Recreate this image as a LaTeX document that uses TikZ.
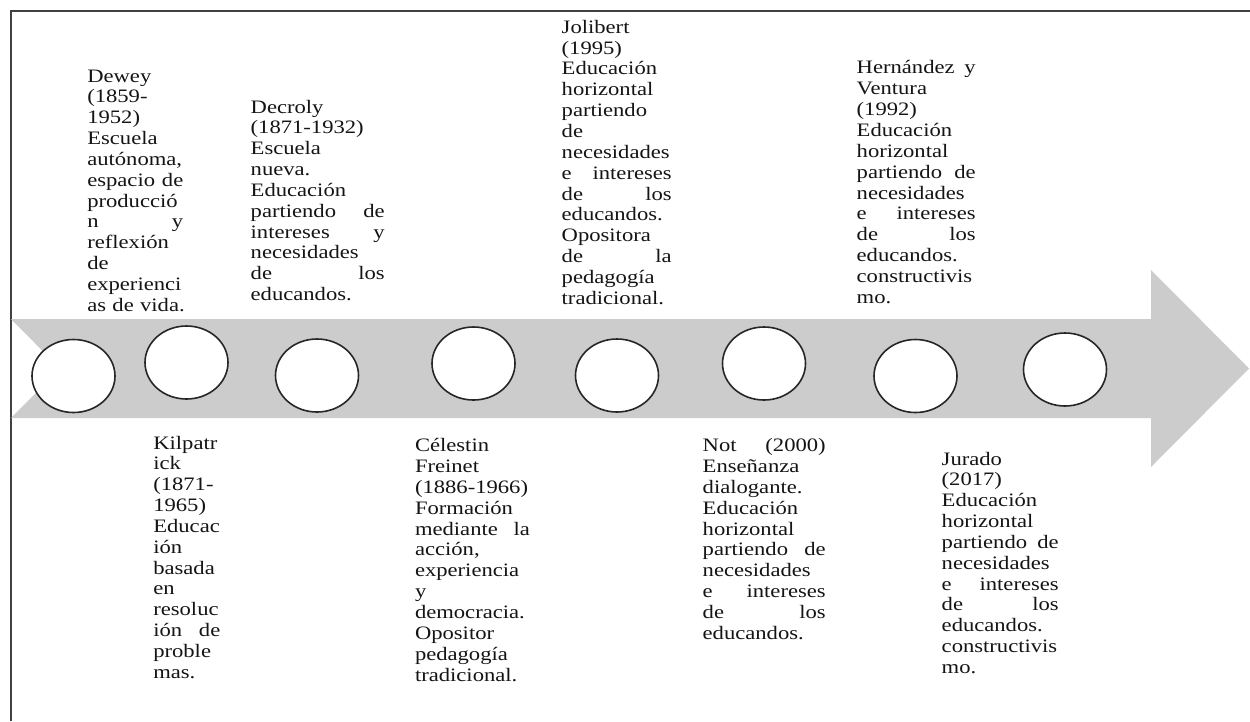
\documentclass[tikz,border=0pt]{standalone}
\usepackage{fontspec}
\setmainfont{Liberation Serif}[FakeStretch=1.19]
\usetikzlibrary{shapes.geometric}
\hyphenpenalty=10000
\exhyphenpenalty=10000
\definecolor{bandgray}{RGB}{204,204,204}
\definecolor{framegray}{RGB}{64,64,64}
\definecolor{textc}{RGB}{20,20,20}
\tikzset{
  txt/.style={anchor=north west, inner sep=0pt, outer sep=0pt, align=left,
    font=\fontsize{19}{20.85}\selectfont, text=textc},
  dot/.style={ellipse, draw=black!85, line width=1.6pt, fill=white,
    minimum width=83pt, minimum height=73pt, inner sep=0pt},
  band/.style={fill=bandgray, draw=none},
  frameline/.style={draw=framegray, line width=2pt}
}
\begin{document}
\begin{tikzpicture}[x=1pt, y=-1pt]
\useasboundingbox (0,0) rectangle (1250,721);
% frame
\coordinate (f1) at (11,721);
\coordinate (f2) at (11,11);
\coordinate (f3) at (1250,11);
\draw[frameline] (f1) -- (f2) -- (f3);
% arrow band
\fill[band] (11,319) -- (1151,319) -- (1151,270) -- (1249,368.5) -- (1151,467)
  -- (1151,418) -- (11,418) -- (60,368.5) -- cycle;
% circles
\node[dot] (c1) at (73.5,376) {};
\node[dot] (c2) at (186.5,362.5) {};
\node[dot] (c3) at (317,375.5) {};
\node[dot] (c4) at (473.5,363.5) {};
\node[dot] (c5) at (617,375.5) {};
\node[dot] (c6) at (764,363.5) {};
\node[dot] (c7) at (915.5,376) {};
\node[dot] (c8) at (1065,369.5) {};
% texts above
\node[txt, text width=96pt] (dewey) at (87.3,67.4) {\strut Dewey\\ (1859-\\ 1952)\\ Escuela\\ autónoma,\\ espacio\hfill de\\ producció\\ n\hfill y\\ reflexión\\ de\\ experienci\\ \mbox{as de vida.}};
\node[txt, text width=134pt] (decroly) at (250.7,98.4) {\strut Decroly\\ (1871-1932)\\ Escuela\\ nueva.\\ Educación\\ partiendo\hfill de\\ intereses\hfill y\\ necesidades\\ de\hfill los\\ educandos.};
\node[txt, text width=110pt] (jolibert) at (561.7,18.7) {\strut Jolibert\\ (1995)\\ Educación\\ horizontal\\ partiendo\\ de\\ necesidades\\ e\hfill intereses\\ de\hfill los\\ educandos.\\ Opositora\\ de\hfill la\\ pedagogía\\ tradicional.};
\node[txt, text width=119pt] (hernandez) at (856.7,59.4) {\strut Hernández\hfill y\\ Ventura\\ (1992)\\ Educación\\ horizontal\\ partiendo\hfill de\\ necesidades\\ e\hfill intereses\\ de\hfill los\\ educandos.\\ constructivis\\ mo.};
% texts below
\node[txt, text width=67pt] (kilpatrick) at (153.3,434.4) {\strut Kilpatr\\ ick\\ (1871-\\ 1965)\\ Educac\\ ión\\ basada\\ en\\ resoluc\\ ión\hfill de\\ proble\\ mas.};
\node[txt, text width=115pt] (freinet) at (415,437.1) {\strut Célestin\\ Freinet\\ (1886-1966)\\ Formación\\ mediante\hfill la\\ acción,\\ experiencia\\ y\\ democracia.\\ Opositor\\ pedagogía\\ tradicional.};
\node[txt, text width=123pt] (not) at (702.7,437.1) {\strut Not\hfill (2000)\\ Enseñanza\\ dialogante.\\ Educación\\ horizontal\\ partiendo\hfill de\\ necesidades\\ e\hfill intereses\\ de\hfill los\\ educandos.};
\node[txt, text width=117pt] (jurado) at (941.7,450.4) {\strut Jurado\\ (2017)\\ Educación\\ horizontal\\ partiendo\hfill de\\ necesidades\\ e\hfill intereses\\ de\hfill los\\ educandos.\\ constructivis\\ mo.};
\end{tikzpicture}
\end{document}
